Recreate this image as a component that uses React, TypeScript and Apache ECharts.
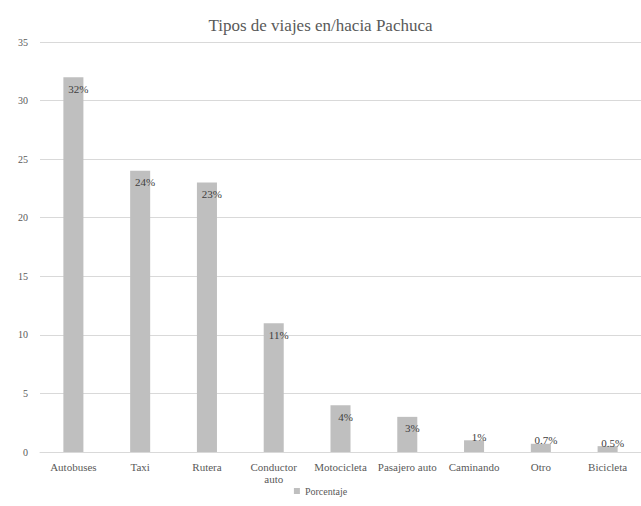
import React, { useEffect, useRef } from "react";
import * as echarts from "echarts";

const categories = [
  "Autobuses",
  "Taxi",
  "Rutera",
  "Conductor\nauto",
  "Motocicleta",
  "Pasajero auto",
  "Caminando",
  "Otro",
  "Bicicleta",
];
const values = [32, 24, 23, 11, 4, 3, 1, 0.7, 0.5];
const seriesName = "Porcentaje";
const titleText = "Tipos de viajes en/hacia Pachuca";

const FONT = "Times New Roman, Liberation Serif, Tinos, serif";
const TXT = "#595959";

export default function App() {
  const ref = useRef<HTMLDivElement>(null);
  useEffect(() => {
    document.body.style.margin = "0";
    const chart = echarts.init(ref.current!, null, { renderer: "svg" });
    chart.setOption({
      animation: false,
      backgroundColor: "#ffffff",
      textStyle: { fontFamily: FONT },
      title: {
        text: titleText,
        left: "center",
        top: 12,
        textStyle: { fontFamily: FONT, fontSize: 17, fontWeight: "normal", color: TXT },
      },
      legend: {
        bottom: 5,
        left: "center",
        itemWidth: 6,
        itemHeight: 6,
        icon: "rect",
        textStyle: { fontFamily: FONT, fontSize: 10, color: TXT },
        data: [seriesName],
      },
      grid: { left: 40, right: 0, top: 42, bottom: 54, containLabel: false },
      xAxis: {
        type: "category",
        data: categories,
        axisLine: { lineStyle: { color: "#d9d9d9" } },
        axisTick: { show: false },
        axisLabel: { fontFamily: FONT, fontSize: 11, color: TXT, margin: 9, interval: 0, lineHeight: 12 },
      },
      yAxis: {
        type: "value",
        min: 0,
        max: 35,
        interval: 5,
        axisLine: { show: false },
        axisTick: { show: false },
        splitLine: { lineStyle: { color: "#d9d9d9" } },
        axisLabel: { fontFamily: FONT, fontSize: 10, color: TXT, margin: 12 },
      },
      series: [
        {
          name: seriesName,
          type: "bar",
          barWidth: "30%",
          itemStyle: { color: "#bfbfbf" },
          data: values.map((v) =>
            v < 2
              ? { value: v, label: { position: "top", distance: -2 } }
              : { value: v }
          ),
          label: {
            show: true,
            position: "insideTop",
            distance: 6,
            offset: [5, 0],
            formatter: (p: any) => `${p.value}%`,
            fontFamily: FONT,
            fontSize: 11,
            color: "#404040",
          },
        },
      ],
    });
    return () => chart.dispose();
  }, []);
  return <div ref={ref} style={{ width: 641, height: 506 }} />;
}
